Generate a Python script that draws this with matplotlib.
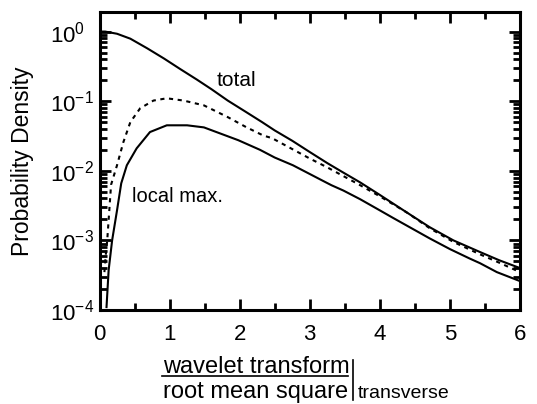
import numpy as np
import matplotlib
matplotlib.use('Agg')
import matplotlib.pyplot as plt
from matplotlib.lines import Line2D
from matplotlib.ticker import LogLocator, MultipleLocator, NullFormatter

plt.rcParams['font.family'] = ['Liberation Sans', 'DejaVu Sans']
plt.rcParams['mathtext.fontset'] = 'custom'
plt.rcParams['mathtext.rm'] = 'Liberation Sans'
plt.rcParams['mathtext.it'] = 'Liberation Sans:italic'

# total (solid, upper)
total_x = [0.0, 0.08, 0.25, 0.44, 0.68, 0.92, 1.15, 1.39, 1.6, 1.83, 2.08, 2.32, 2.5, 2.75,
           3.0, 3.25, 3.45, 3.72, 4.0, 4.39, 4.71, 5.05, 5.43, 5.7, 6.0]
total_y = [1.0, 1.0, 0.93, 0.79, 0.575, 0.41, 0.29, 0.204, 0.148, 0.102, 0.071, 0.050, 0.038, 0.027,
           0.0186, 0.0129, 0.0098, 0.0068, 0.0045, 0.0025, 0.00155, 0.001, 0.00068, 0.00052, 0.0004]

# dashed curve
dash_x = [0.07, 0.09, 0.11, 0.13, 0.165, 0.25, 0.34, 0.44, 0.58, 0.77, 0.96, 1.2, 1.49, 1.83,
          2.1, 2.34, 2.46, 3.0, 3.25, 3.72, 4.0, 4.39, 4.71, 5.05, 5.43, 5.7, 6.0]
dash_y = [0.00035, 0.00063, 0.001, 0.00195, 0.0063, 0.012, 0.0257, 0.05, 0.079, 0.102, 0.11, 0.102,
          0.087, 0.059, 0.042, 0.032, 0.0295, 0.015, 0.0112, 0.0062, 0.0043, 0.0025, 0.0015,
          0.00095, 0.00063, 0.00048, 0.00035]

# local max. (solid, lower)
loc_x = [0.1, 0.13, 0.18, 0.25, 0.31, 0.39, 0.53, 0.72, 0.96, 1.25, 1.49, 1.98, 2.29, 2.5, 2.76,
         3.22, 3.31, 3.48, 3.72, 4.0, 4.19, 4.71, 5.0, 5.28, 5.43, 5.67, 6.0]
loc_y = [0.00011, 0.00037, 0.001, 0.0027, 0.0066, 0.012, 0.021, 0.036, 0.045, 0.045, 0.042, 0.0275,
         0.02, 0.0155, 0.012, 0.0069, 0.0062, 0.0052, 0.0039, 0.0027, 0.0021, 0.00107, 0.00075,
         0.00055, 0.00047, 0.00035, 0.00026]

fig = plt.figure(figsize=(5.37, 4.04), dpi=100)
ax = fig.add_axes([0.1853, 0.2327, 0.783, 0.7376])

ax.plot(total_x, total_y, color='black', lw=1.5)
ax.plot(dash_x, dash_y, color='black', lw=1.5, dashes=(2, 2.2))
ax.plot(loc_x, loc_y, color='black', lw=1.5)

ax.set_yscale('log')
ax.set_xlim(0, 6)
ax.set_ylim(1e-4, 1.91)

ax.xaxis.set_major_locator(MultipleLocator(1))
ax.xaxis.set_minor_locator(MultipleLocator(0.5))
ax.yaxis.set_major_locator(LogLocator(base=10, numticks=10))
ax.yaxis.set_minor_locator(LogLocator(base=10, subs=np.arange(2, 10), numticks=10))
ax.yaxis.set_minor_formatter(NullFormatter())

ax.tick_params(which='both', direction='in', top=True, right=True, width=2, labelsize=16)
ax.tick_params(which='major', length=8)
ax.tick_params(which='minor', length=5)
ax.tick_params(axis='x', pad=10)
ax.tick_params(axis='y', pad=36)
for lab in ax.get_yticklabels():
    lab.set_horizontalalignment('left')
for s in ax.spines.values():
    s.set_linewidth(2.2)

ax.set_ylabel('Probability Density', fontsize=16.5)
ax.yaxis.set_label_coords(-0.184, 0.5)
ax.yaxis.label.set_va('center')

ax.text(1.96, 0.2, 'total', fontsize=15, ha='center', va='center')
ax.text(0.46, 0.0042, 'local max.', fontsize=14.5, ha='left', va='center')

# x label: fraction with bar and subscript
fig.text(163 / 537, 1 - 373 / 404, 'wavelet transform', fontsize=17, ha='left', va='baseline')
fig.text(163 / 537, 1 - 398 / 404, 'root mean square', fontsize=17, ha='left', va='baseline')
fig.add_artist(Line2D([162 / 537, 348 / 537], [1 - 376 / 404, 1 - 376 / 404],
                      transform=fig.transFigure, color='black', lw=1.2))
fig.add_artist(Line2D([353 / 537, 353 / 537], [1 - 360 / 404, 1 - 400 / 404],
                      transform=fig.transFigure, color='black', lw=1.2))
fig.text(358 / 537, 1 - 398 / 404, 'transverse', fontsize=14, ha='left', va='baseline')

fig.savefig('out.png', dpi=100)
